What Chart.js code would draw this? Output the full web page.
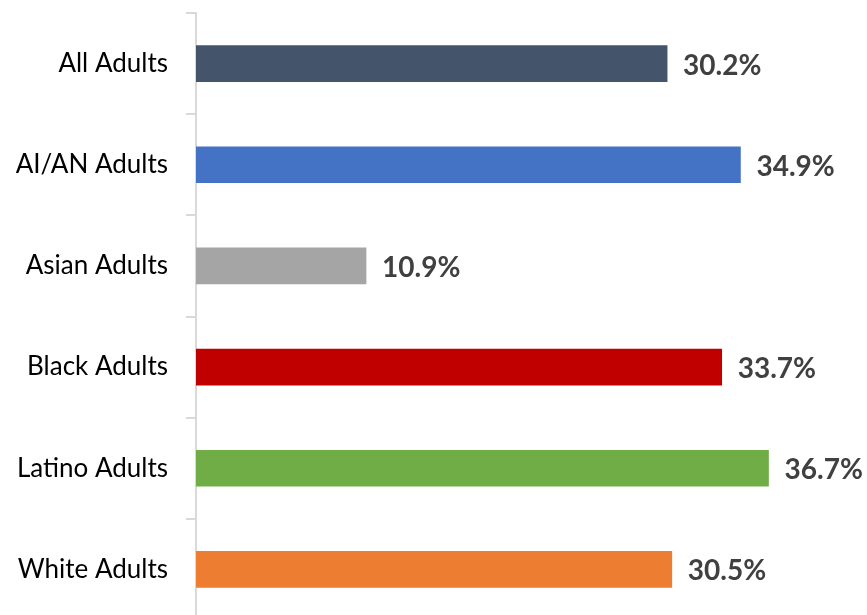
<!DOCTYPE html>
<html>
<head>
<meta charset="utf-8">
<script src="https://cdn.jsdelivr.net/npm/chart.js@4/dist/chart.umd.min.js"></script>
<style>
  html, body { margin: 0; padding: 0; background: #fff; overflow: hidden; }
  #wrap { width: 867px; height: 615px; overflow: hidden; }
</style>
</head>
<body>
<div id="wrap"><canvas id="chart" width="867" height="622"></canvas></div>
<script>
const groups = ['All Adults', 'AI/AN Adults', 'Asian Adults', 'Black Adults', 'Latino Adults', 'White Adults'];
const shares = [30.2, 34.9, 10.9, 33.7, 36.7, 30.5];
const barColors = ['#44546A', '#4472C4', '#A5A5A5', '#C00000', '#70AD47', '#ED7D31'];

// value labels to the right of each bar
const valueLabels = {
  id: 'valueLabels',
  afterDatasetsDraw(chart) {
    const ctx = chart.ctx;
    const meta = chart.getDatasetMeta(0);
    ctx.save();
    ctx.font = 'bold 28px Lato';
    ctx.fillStyle = '#404040';
    ctx.textAlign = 'left';
    ctx.textBaseline = 'middle';
    meta.data.forEach((bar, i) => {
      ctx.fillText(shares[i].toFixed(1) + '%', bar.x + 16, bar.y + 2);
    });
    ctx.restore();
  }
};

new Chart(document.getElementById('chart'), {
  type: 'bar',
  data: {
    labels: groups,
    datasets: [{ data: shares, backgroundColor: barColors, barThickness: 36, borderWidth: 0 }]
  },
  options: {
    indexAxis: 'y',
    responsive: false,
    animation: false,
    layout: { padding: { top: 13, right: 47, bottom: 2, left: 0 } },
    plugins: { legend: { display: false }, tooltip: { enabled: false } },
    scales: {
      x: { display: false, min: 0, max: 40 },
      y: {
        afterFit(scale) {
          scale.width = 196;
          scale.paddingTop = 0;
          scale.paddingBottom = 0;
        },
        border: { color: '#d9d9d9', width: 2 },
        grid: { drawOnChartArea: false, color: '#d9d9d9', lineWidth: 2, tickLength: 10, offset: true },
        ticks: { color: '#000', font: { family: 'Lato', size: 26 }, padding: 18 }
      }
    }
  },
  plugins: [valueLabels]
});
</script>
</body>
</html>
